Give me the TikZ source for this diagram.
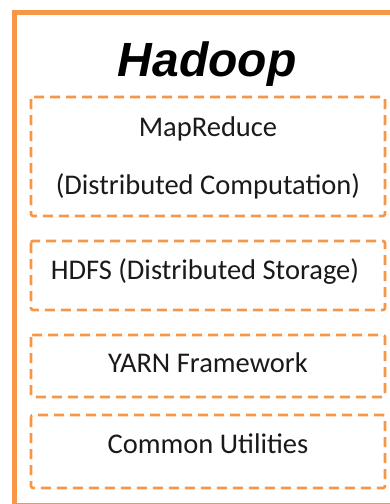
\documentclass[tikz,border=0pt]{standalone}
\usepackage{fontspec}
\setmainfont{Carlito}
\newfontfamily\titlefont{Liberation Sans}
\definecolor{hadooporange}{HTML}{F79646}
\definecolor{textdark}{HTML}{1A1A1A}
\begin{document}
\begin{tikzpicture}[x=1pt,y=-1pt,
  outerframe/.style={draw=hadooporange, line width=5pt},
  layerbox/.style={draw=hadooporange, line width=2.6pt, dash pattern=on 10pt off 6pt, rounded corners=2pt},
  layertext/.style={text=textdark, font=\fontsize{28.5}{33}\selectfont, anchor=base, inner sep=0pt},
  titletext/.style={text=black, font=\titlefont\fontsize{48}{54}\selectfont\bfseries\itshape, anchor=base, inner sep=0pt}]
  \useasboundingbox (0,0) rectangle (390,504);
  \begin{scope}
    \clip (0,0) rectangle (390,504);
    \draw[outerframe] (14.5,12) rectangle (394,505.5);
  \end{scope}

  \node[titletext] (title) at (207,76) {Hadoop};

  \draw[layerbox] (31,97) rectangle (385,216);
  \node[layertext] (mr) at (208,136) {MapReduce};
  \node[layertext] (mrsub) at (208,194) {(Distributed Computation)};

  \draw[layerbox] (31,241) rectangle (385,310);
  \node[layertext] (hdfs) at (205,279) {HDFS (Distributed Storage)};

  \draw[layerbox] (31,335) rectangle (385,397);
  \node[layertext] (yarn) at (208,372) {YARN Framework};

  \draw[layerbox] (31,415) rectangle (385,488);
  \node[layertext] (common) at (208,453) {Common Utilities};
\end{tikzpicture}
\end{document}
